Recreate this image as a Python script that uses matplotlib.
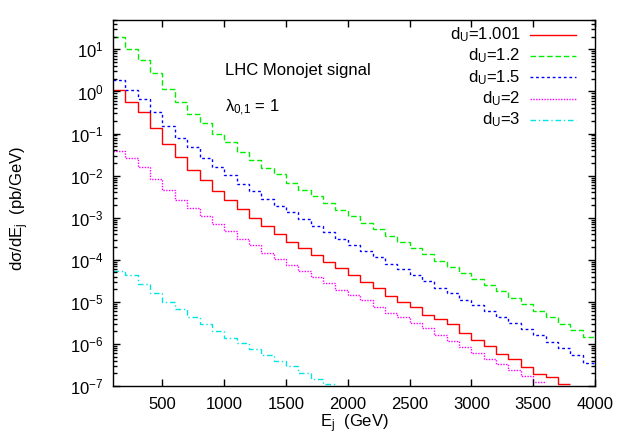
import numpy as np
import matplotlib
matplotlib.use('Agg')
import matplotlib.pyplot as plt

plt.rcParams['font.family'] = ['Liberation Sans', 'DejaVu Sans']
plt.rcParams['mathtext.fontset'] = 'custom'
plt.rcParams['mathtext.rm'] = 'Liberation Sans'
plt.rcParams['mathtext.it'] = 'Liberation Sans:italic'

# bin edges in GeV (100 GeV bins)
edges = list(range(100, 4001, 100))

d_1001 = [1.1, 0.56, 0.324, 0.138, 0.0575, 0.0275, 0.0138, 7.8e-3, 4.27e-3, 2.57e-3,
          1.58e-3, 1.0e-3, 6.3e-4, 4.17e-4, 2.69e-4, 1.86e-4, 1.29e-4, 8.9e-5, 6.3e-5, 4.27e-5,
          2.95e-5, 2.09e-5, 1.38e-5, 1.0e-5, 7.6e-6, 5.0e-6, 4.0e-6, 2.95e-6, 1.82e-6, 1.26e-6,
          9.1e-7, 5.9e-7, 4.4e-7, 2.8e-7, 1.9e-7, 1.62e-7, 1.12e-7]
d_12 = [19.5, 10.5, 5.75, 2.75, 1.17, 0.56, 0.295, 0.174, 0.0955, 0.0617,
        0.0363, 0.0229, 0.0155, 0.0107, 6.76e-3, 4.68e-3, 3.24e-3, 2.24e-3, 1.55e-3, 1.07e-3,
        7.6e-4, 5.25e-4, 3.72e-4, 2.69e-4, 1.95e-4, 1.38e-4, 9.5e-5, 6.9e-5, 4.9e-5, 3.47e-5,
        2.45e-5, 1.78e-5, 1.23e-5, 8.7e-6, 6.0e-6, 4.4e-6, 3.0e-6, 2.14e-6, 1.45e-6]
d_15 = [1.9, 1.1, 0.646, 0.324, 0.148, 0.0794, 0.0468, 0.0269, 0.0158, 0.0102,
        6.46e-3, 4.27e-3, 2.82e-3, 1.95e-3, 1.38e-3, 9.1e-4, 6.3e-4, 4.47e-4, 3.16e-4, 2.29e-4,
        1.62e-4, 1.17e-4, 8.1e-5, 6.2e-5, 4.27e-5, 3.09e-5, 2.19e-5, 1.58e-5, 1.12e-5, 8.3e-6,
        6.0e-6, 4.4e-6, 3.16e-6, 2.24e-6, 1.62e-6, 1.12e-6, 7.9e-7, 5.4e-7, 3.6e-7]
d_2 = [0.038, 0.0263, 0.0158, 8.3e-3, 4.68e-3, 2.69e-3, 1.66e-3, 1.07e-3, 6.9e-4, 4.8e-4,
       3.16e-4, 2.19e-4, 1.48e-4, 1.02e-4, 7.4e-5, 5.4e-5, 3.9e-5, 2.82e-5, 1.95e-5, 1.45e-5,
       1.1e-5, 7.6e-6, 5.5e-6, 4.27e-6, 3.16e-6, 2.34e-6, 1.62e-6, 1.17e-6, 8.5e-7, 6.2e-7,
       4.5e-7, 3.3e-7, 2.4e-7, 1.74e-7, 1.23e-7]
d_3 = [5.4e-5, 4.27e-5, 2.69e-5, 1.66e-5, 1.0e-5, 6.6e-6, 4.4e-6, 3.0e-6, 2.04e-6, 1.41e-6,
       1.07e-6, 7.4e-7, 5.4e-7, 3.9e-7, 2.95e-7, 2.04e-7, 1.48e-7, 1.1e-7]

series = [
    ('d$_\\mathregular{U}$=1.001', d_1001, '#ff0000', '-'),
    ('d$_\\mathregular{U}$=1.2', d_12, '#00ee00', (0, (4, 2))),
    ('d$_\\mathregular{U}$=1.5', d_15, '#0000ff', (0, (2, 2))),
    ('d$_\\mathregular{U}$=2', d_2, '#ff00ff', (0, (1, 1))),
    ('d$_\\mathregular{U}$=3', d_3, '#00e5e5', (0, (4, 2, 1, 2))),
]

fig = plt.figure(figsize=(6.23, 4.36), dpi=100)
ax = fig.add_axes([113 / 623, 1 - 386 / 436, 482 / 623, 366 / 436])

for label, vals, color, ls in series:
    ax.stairs(vals, edges[:len(vals) + 1], baseline=None, color=color,
              linestyle=ls, linewidth=1.0)

ax.set_yscale('log')
ax.set_xlim(100, 4000)
ax.set_ylim(1e-7, 50)
ax.set_xticks([500, 1000, 1500, 2000, 2500, 3000, 3500, 4000])
ax.set_yticks([10.0 ** p for p in range(-7, 2)])
ax.tick_params(which='both', direction='in', top=True, right=True, labelsize=12)
ax.tick_params(which='major', length=5, width=1)
ax.tick_params(which='minor', length=3, width=1)
ax.tick_params(axis='y', pad=7)
ax.tick_params(axis='x', pad=8)
for s in ax.spines.values():
    s.set_linewidth(1.0)

# legend drawn gnuplot-style: right aligned text, sample line to its right
row_y = [0.959, 0.902, 0.843, 0.784, 0.727]
for (label, vals, color, ls), yy in zip(series, row_y):
    ax.text(0.845, yy, label, transform=ax.transAxes, ha='right', va='center', fontsize=12)
    ax.plot([0.865, 0.961], [yy, yy], transform=ax.transAxes, color=color,
            linestyle=ls, linewidth=1.0)

ax.text(225 / 623, 1 - 70 / 436, 'LHC Monojet signal', transform=fig.transFigure,
        ha='left', va='center', fontsize=12)
ax.text(225 / 623, 1 - 108 / 436, '\u03bb$_\\mathregular{0{,}1}$ = 1', transform=fig.transFigure,
        ha='left', va='center', fontsize=12)

fig.text(20 / 623, 1 - 208 / 436, 'd\u03c3/dE$_\\mathregular{j}$  (pb/GeV)', rotation=90,
         ha='center', va='center', fontsize=12)
fig.text(354 / 623, 1 - 424 / 436, 'E$_\\mathregular{j}$  (GeV)', ha='center', va='center',
         fontsize=12)

fig.savefig('out.png', dpi=100)
